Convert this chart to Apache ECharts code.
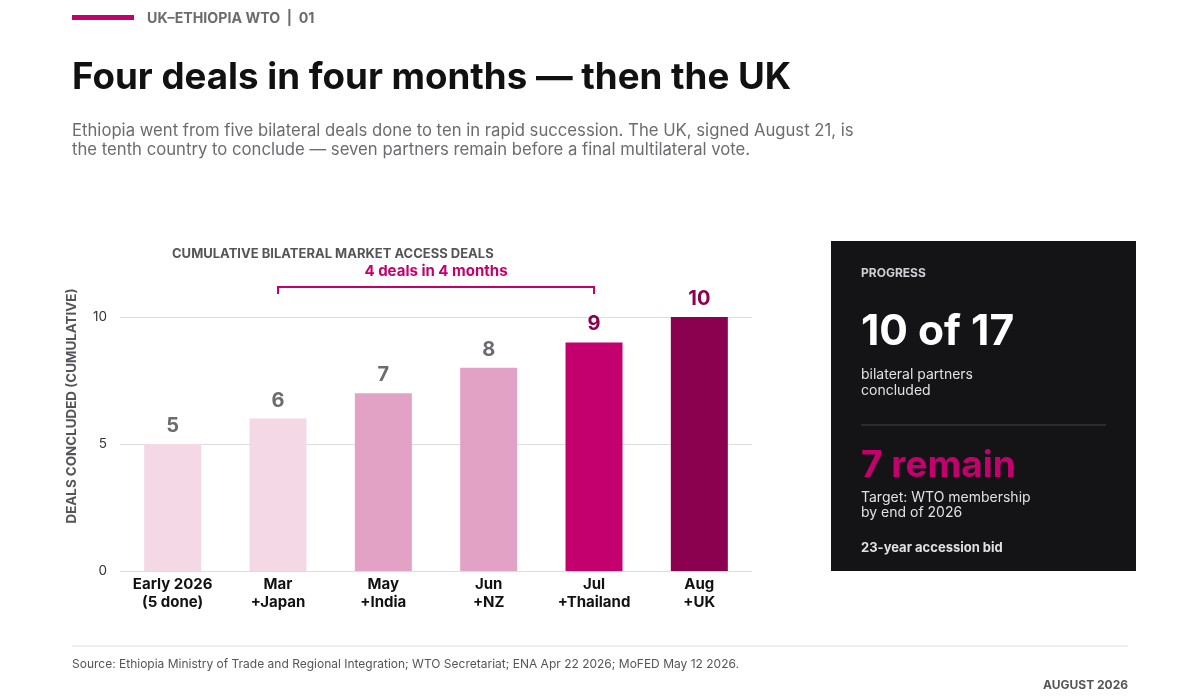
<!DOCTYPE html>
<html>
<head>
<meta charset="utf-8">
<script src="https://cdn.jsdelivr.net/npm/echarts@6/dist/echarts.min.js"></script>
<style>
  html, body { margin: 0; padding: 0; background: #fff; }
  #chart { width: 1200px; height: 700px; }
</style>
</head>
<body>
<div id="chart"></div>
<script>
// data
var categories = ['Early 2026\n(5 done)', 'Mar\n+Japan', 'May\n+India', 'Jun\n+NZ', 'Jul\n+Thailand', 'Aug\n+UK'];
var deals = [5, 6, 7, 8, 9, 10];
var barColors = ['#f5d8e6', '#f5d8e6', '#e2a2c5', '#e2a2c5', '#c4006f', '#8c0050'];
var labelColors = ['#6b6b70', '#6b6b70', '#6b6b70', '#6b6b70', '#8c0050', '#8c0050'];
var yTicks = [0, 5, 10];

var FONT = 'Inter, "Noto Sans", sans-serif';
var chart = echarts.init(document.getElementById('chart'));

var seriesData = deals.map(function (v, i) {
    return {
        value: v,
        itemStyle: { color: barColors[i] },
        label: { color: labelColors[i] }
    };
});

var option = {
    backgroundColor: '#ffffff',
    animation: false,
    textStyle: { fontFamily: FONT },
    grid: { left: 120, right: 448, top: 317, bottom: 129, containLabel: false },
    xAxis: {
        type: 'category',
        data: categories,
        axisLine: { show: false },
        axisTick: { show: false },
        axisLabel: {
            color: '#111111',
            fontSize: 15,
            fontWeight: 'bold',
            lineHeight: 18,
            margin: 4,
            fontFamily: FONT
        }
    },
    yAxis: {
        type: 'value',
        min: yTicks[0],
        max: yTicks[yTicks.length - 1],
        interval: 5,
        axisLine: { show: false },
        axisTick: { show: false },
        axisLabel: { color: '#333333', fontSize: 13.5, margin: 13, fontFamily: FONT },
        splitLine: { lineStyle: { color: '#dddddd', width: 1 } }
    },
    series: [{
        type: 'bar',
        data: seriesData,
        barWidth: 57,
        label: {
            show: true,
            position: 'top',
            distance: 8,
            fontSize: 20,
            fontWeight: 'bold',
            fontFamily: FONT
        }
    }]
};
chart.setOption(option);

// bracket over Mar..Jul
var x1 = chart.convertToPixel({ xAxisIndex: 0 }, categories[1]);
var x2 = chart.convertToPixel({ xAxisIndex: 0 }, categories[4]);
var bracketY = 287;

chart.setOption({
    graphic: [
        // header tag
        { type: 'rect', shape: { x: 72, y: 15, width: 62, height: 5 }, style: { fill: '#c4006f' } },
        { type: 'text', left: 147, top: 12, style: { text: 'UK–ETHIOPIA WTO  |  01', fill: '#6b6b70', font: 'bold 14.2px ' + FONT } },
        // title
        { type: 'text', left: 72, top: 59, style: { text: 'Four deals in four months — then the UK', fill: '#111111', font: 'bold 36.7px ' + FONT } },
        { type: 'text', left: 72, top: 121, style: {
            text: 'Ethiopia went from five bilateral deals done to ten in rapid succession. The UK, signed August 21, is\nthe tenth country to conclude — seven partners remain before a final multilateral vote.',
            fill: '#6b6b70', font: '16.7px ' + FONT, lineHeight: 19 } },
        // y axis title
        { type: 'text', x: 72, y: 406, rotation: Math.PI / 2,
          style: { text: 'DEALS CONCLUDED (CUMULATIVE)', fill: '#555559', font: 'bold 13.4px ' + FONT, textAlign: 'center', textVerticalAlign: 'middle' } },
        // chart caption
        { type: 'text', left: 172, top: 248, style: { text: 'CUMULATIVE BILATERAL MARKET ACCESS DEALS', fill: '#555559', font: 'bold 13px ' + FONT } },
        { type: 'text', x: (x1 + x2) / 2, y: 264, style: { text: '4 deals in 4 months', fill: '#c4006f', font: 'bold 15px ' + FONT, textAlign: 'center' } },
        { type: 'polyline', shape: { points: [[x1, bracketY + 7], [x1, bracketY], [x2, bracketY], [x2, bracketY + 7]] },
          style: { stroke: '#c4006f', lineWidth: 2, fill: null } },
        // side panel
        { type: 'rect', shape: { x: 831, y: 241, width: 305, height: 330 }, style: { fill: '#141416' } },
        { type: 'text', left: 861, top: 267, style: { text: 'PROGRESS', fill: '#cfcfd4', font: 'bold 12px ' + FONT } },
        { type: 'text', left: 861, top: 311, style: { text: '10 of 17', fill: '#ffffff', font: 'bold 42.5px ' + FONT } },
        { type: 'text', left: 861, top: 367, style: { text: 'bilateral partners\nconcluded', fill: '#e0e0e4', font: '14px ' + FONT, lineHeight: 16 } },
        { type: 'line', shape: { x1: 861, y1: 425, x2: 1106, y2: 425 }, style: { stroke: '#444448', lineWidth: 1 } },
        { type: 'text', left: 861, top: 447, style: { text: '7 remain', fill: '#c4006f', font: 'bold 37px ' + FONT } },
        { type: 'text', left: 861, top: 490, style: { text: 'Target: WTO membership\nby end of 2026', fill: '#e0e0e4', font: '14px ' + FONT, lineHeight: 15 } },
        { type: 'text', left: 861, top: 542, style: { text: '23-year accession bid', fill: '#e0e0e4', font: 'bold 13px ' + FONT } },
        // footer
        { type: 'line', shape: { x1: 72, y1: 646, x2: 1128, y2: 646 }, style: { stroke: '#dddddd', lineWidth: 1 } },
        { type: 'text', left: 72, top: 658, style: { text: 'Source: Ethiopia Ministry of Trade and Regional Integration; WTO Secretariat; ENA Apr 22 2026; MoFED May 12 2026.', fill: '#555559', font: '12px ' + FONT } },
        { type: 'text', right: 72, top: 679, style: { text: 'AUGUST 2026', fill: '#555559', font: 'bold 12px ' + FONT } }
    ]
});
</script>
</body>
</html>
